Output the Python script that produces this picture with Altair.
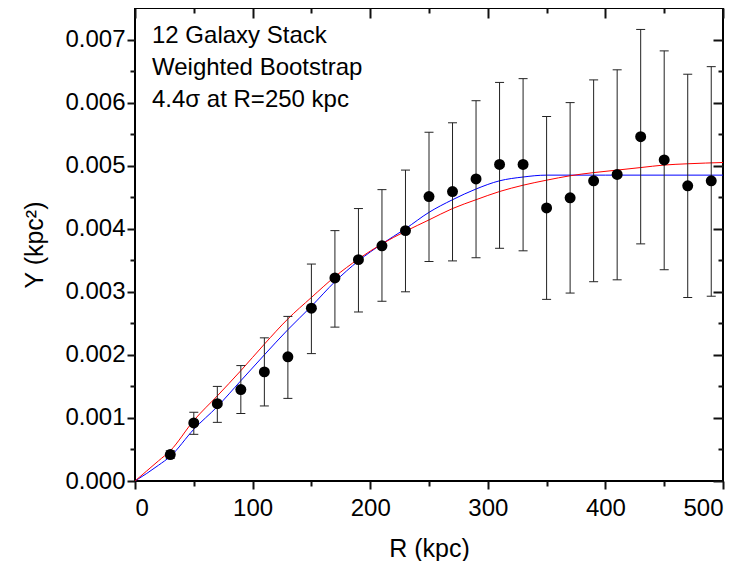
import altair as alt
import pandas as pd

# ---- data ----
R = [30, 50, 70, 90, 110, 130, 150, 170, 190, 210, 230, 250,
     270, 290, 310, 330, 350, 370, 390, 410, 430, 450, 470, 490]
Y = [0.00042, 0.00092, 0.001225, 0.00145, 0.00173, 0.00197, 0.00274, 0.00322,
     0.00351, 0.00373, 0.00397, 0.00451, 0.00459, 0.00479, 0.00502, 0.00502,
     0.00433, 0.00449, 0.00476, 0.00486, 0.00546, 0.00509, 0.00468, 0.00476]
Y_LO = [0.00036, 0.00074, 0.00093, 0.00107, 0.00119, 0.00131, 0.00202, 0.00244,
        0.00268, 0.00285, 0.00300, 0.00348, 0.00349, 0.00354, 0.00369, 0.00365,
        0.00288, 0.00298, 0.00316, 0.00319, 0.00376, 0.00335, 0.00291, 0.00293]
Y_HI = [0.00048, 0.00109, 0.00150, 0.00183, 0.00227, 0.00261, 0.00344, 0.00397,
        0.00432, 0.00462, 0.00493, 0.00553, 0.00568, 0.00603, 0.00632, 0.00638,
        0.00578, 0.00600, 0.00636, 0.00652, 0.00716, 0.00682, 0.00645, 0.00657]

BLUE_R = [0, 10, 20, 30, 50, 70, 90, 110, 130, 150, 170, 190, 210, 230,
          250, 270, 290, 310, 330, 350, 370, 400, 450, 500]
BLUE_Y = [0.0, 0.00012, 0.00025, 0.00039, 0.00082, 0.00118, 0.00159, 0.00200,
          0.00240, 0.00277, 0.00316, 0.00349, 0.00376, 0.00400, 0.00426,
          0.00446, 0.00463, 0.00476, 0.00482, 0.00485, 0.00485, 0.00485,
          0.00485, 0.00485]
RED_R = [0, 10, 20, 30, 50, 70, 90, 110, 130, 150, 170, 190, 210, 230, 250,
         270, 290, 310, 330, 350, 370, 390, 410, 430, 450, 470, 500]
RED_Y = [0.0, 0.00016, 0.00032, 0.00048, 0.00096, 0.00135, 0.00175, 0.00217,
         0.00257, 0.00291, 0.00324, 0.00352, 0.00376, 0.00396, 0.00414,
         0.00432, 0.00446, 0.00459, 0.00469, 0.00477, 0.00484, 0.00489,
         0.00493, 0.00497, 0.00501, 0.00503, 0.00505]

# tick positions (major every 100 / 0.001, minor halfway)
X_TICKS = [0, 50, 100, 150, 200, 250, 300, 350, 400, 450, 500]
Y_TICKS = [0.0, 0.0005, 0.001, 0.0015, 0.002, 0.0025, 0.003, 0.0035,
           0.004, 0.0045, 0.005, 0.0055, 0.006, 0.0065, 0.007]

NOTE_LINES = ["12 Galaxy Stack", "Weighted Bootstrap", "4.4\u03c3 at R=250 kpc"]
X_TITLE = "R (kpc)"
Y_TITLE = "Y  (kpc\u00b2)"

FONT = "Liberation Sans"
TICK = "#111111"

pts = pd.DataFrame({"R": R, "Y": Y, "lo": Y_LO, "hi": Y_HI})
fits = pd.concat([
    pd.DataFrame({"R": BLUE_R, "Y": BLUE_Y, "fit": "blue"}),
    pd.DataFrame({"R": RED_R, "Y": RED_Y, "fit": "red"}),
])

xs = alt.Scale(domain=[0, 500], nice=False, zero=False)
ys = alt.Scale(domain=[0, 0.0075], nice=False, zero=False)

X_MAJ = "round(datum.value) % 100 === 0"
Y_MAJ = "round(datum.value * 10000) % 10 === 0"

x_bottom = alt.Axis(
    orient="bottom", values=X_TICKS, domain=False, grid=False, ticks=True,
    tickColor=TICK, tickWidth=2, tickOpacity=1, zindex=1,
    tickSize={"expr": f"{X_MAJ} ? 8 : 5"},
    labelExpr=f"{X_MAJ} ? datum.label : ''", format="d",
    labelPadding=7, titlePadding=16,
)
x_top = alt.Axis(
    orient="top", values=X_TICKS, domain=False, grid=False, labels=False,
    ticks=True, tickColor=TICK, tickWidth=2, tickOpacity=1, zindex=1,
    tickSize={"expr": f"{X_MAJ} ? -10 : -5"},
)
y_left = alt.Axis(
    orient="left", values=Y_TICKS, domain=False, grid=False, ticks=True,
    tickColor=TICK, tickWidth=2, tickOpacity=1, zindex=1,
    tickSize={"expr": f"{Y_MAJ} ? 8 : 5"},
    labelExpr=f"{Y_MAJ} ? datum.label : ''", format=".3f",
    labelPadding=2, titlePadding=17,
)
y_right = alt.Axis(
    orient="right", values=Y_TICKS, domain=False, grid=False, labels=False,
    ticks=True, tickColor=TICK, tickWidth=2, tickOpacity=1, zindex=1,
    tickSize={"expr": f"{Y_MAJ} ? -10 : -5"},
)

base = alt.Chart(pts)

lines = alt.Chart(fits).mark_line(strokeWidth=1, interpolate="monotone").encode(
    x=alt.X("R:Q", scale=xs, axis=None),
    y=alt.Y("Y:Q", scale=ys, axis=None),
    color=alt.Color("fit:N", scale=alt.Scale(domain=["blue", "red"],
                                              range=["#0000ff", "#ff0000"]),
                    legend=None),
)

errbar = base.mark_rule(color="#222222", strokeWidth=1).encode(
    x=alt.X("R:Q", scale=xs, axis=x_bottom, title=X_TITLE),
    y=alt.Y("lo:Q", scale=ys, axis=y_left, title=Y_TITLE),
    y2="hi:Q",
)

cap_lo = base.mark_tick(orient="horizontal", size=9, thickness=1,
                        color="#222222", opacity=1).encode(
    x=alt.X("R:Q", scale=xs, axis=None),
    y=alt.Y("lo:Q", scale=ys, axis=None),
)

cap_hi = base.mark_tick(orient="horizontal", size=9, thickness=1,
                        color="#222222", opacity=1).encode(
    x=alt.X("R:Q", scale=xs, axis=x_top, title=None),
    y=alt.Y("hi:Q", scale=ys, axis=y_right, title=None),
)

dots = base.mark_circle(size=120, color="black", opacity=1).encode(
    x=alt.X("R:Q", scale=xs, axis=None),
    y=alt.Y("Y:Q", scale=ys, axis=None),
)

note = alt.Chart(pd.DataFrame({"t": ["\n".join(NOTE_LINES)]})).mark_text(
    align="left", baseline="alphabetic", lineBreak="\n", lineHeight=32,
    fontSize=24, font=FONT, color="black",
).encode(text="t:N", x=alt.value(17), y=alt.value(35))

chart = (
    alt.layer(lines, errbar, cap_lo, cap_hi, dots, note)
    .resolve_scale(x="shared", y="shared")
    .resolve_axis(x="independent", y="independent")
    .properties(
        width=588, height=473,
        padding={"left": 127, "top": 0, "right": 19, "bottom": 80},
        autosize=alt.AutoSizeParams(type="none"),
    )
    .configure_view(stroke="black", strokeWidth=2)
    .configure_axis(labelFont=FONT, titleFont=FONT, labelFontSize=24,
                    titleFontSize=25, labelColor="black", titleColor="black",
                    titleFontWeight="normal")
)

chart.save("out.html", embed_options={"renderer": "svg", "actions": False})
